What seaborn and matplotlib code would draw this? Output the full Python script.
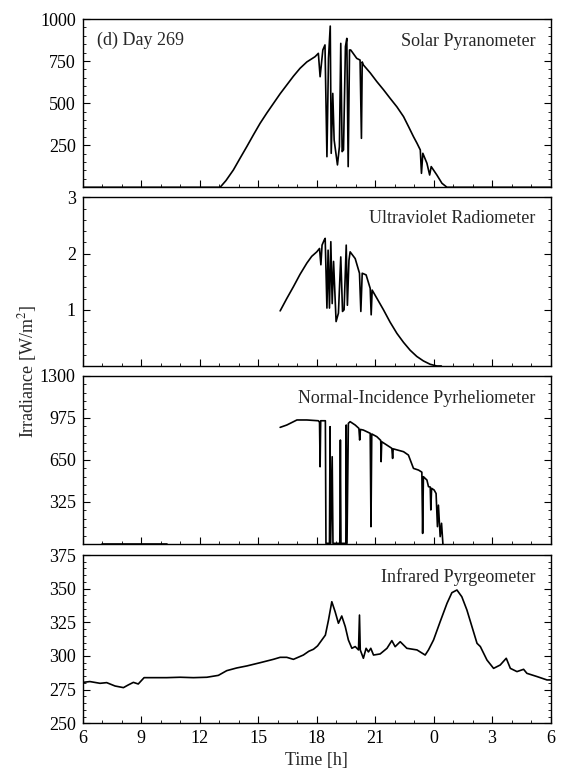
import matplotlib
matplotlib.use("Agg")
import matplotlib.pyplot as plt
import seaborn as sns
from matplotlib.ticker import AutoMinorLocator

# ---------------- data ----------------
# time axis: hours since 0h of day 269 (24 = midnight, 30 = 6h next day)
x_ticks = [6, 9, 12, 15, 18, 21, 24, 27, 30]
x_tick_labels = ["6", "9", "12", "15", "18", "21", "0", "3", "6"]

# (a) Solar Pyranometer  [W/m2]
t_solar = [6.0, 13.05, 13.35, 13.73, 14.07, 14.42, 14.76, 15.10, 15.45, 15.79,
           16.13, 16.47, 16.81, 17.15, 17.50, 17.92,
           18.09, 18.18, 18.32, 18.43, 18.53, 18.61, 18.70, 18.75, 18.83, 18.90,
           19.07, 19.17, 19.24, 19.31, 19.38, 19.48, 19.55, 19.62, 19.69, 19.75,
           20.06, 20.23, 20.30, 20.34, 20.40, 20.75, 21.09, 21.43, 21.77, 22.12,
           22.46, 22.72, 22.97, 23.15, 23.32,
           23.38, 23.45, 23.66, 23.80, 23.88, 24.17, 24.43, 24.69, 30.0]
v_solar = [0, 0, 40, 103, 172, 242, 312, 380, 442, 499,
           556, 608, 660, 707, 745, 776,
           796, 657, 816, 846, 182, 766, 958, 202, 558, 281,
           133, 242, 855, 212, 222, 836, 885, 123, 816, 816,
           766, 756, 291, 745, 727, 680, 628, 580, 529, 478,
           420, 360, 301, 262, 222,
           83, 202, 143, 73, 123, 73, 24, 0, 0]

# (b) Ultraviolet Radiometer [W/m2]
t_uv = [16.13, 16.47, 16.81, 17.15, 17.50, 17.75, 18.01, 18.15, 18.22, 18.28,
        18.39, 18.44, 18.53, 18.59, 18.66, 18.73, 18.80, 18.87, 19.00, 19.12,
        19.24, 19.33, 19.41, 19.52, 19.58, 19.66, 19.72, 19.98, 20.20, 20.27,
        20.34, 20.54, 20.75, 20.80, 20.85, 21.10, 21.43, 21.77, 22.12, 22.46,
        22.80, 23.14, 23.48, 23.83, 24.17, 24.40]
v_uv = [0.98, 1.20, 1.41, 1.63, 1.83, 1.95, 2.03, 2.09, 1.80, 2.15,
        2.24, 2.27, 1.03, 2.06, 1.03, 2.21, 1.11, 1.86, 0.79, 0.94,
        1.94, 0.97, 1.00, 2.15, 1.08, 1.88, 2.03, 1.91, 1.65, 0.97,
        1.65, 1.62, 1.38, 0.91, 1.35, 1.20, 1.00, 0.78, 0.58, 0.42,
        0.28, 0.17, 0.09, 0.03, 0.0, 0.0]

# (c) Normal-Incidence Pyrheliometer [W/m2]
t_nip = [16.13, 16.47, 16.99, 17.50, 18.09, 18.15, 18.18, 18.21, 18.45, 18.48,
         18.66, 18.69, 18.72, 18.80, 18.84, 19.19, 19.22, 19.25, 19.50, 19.52,
         19.56, 19.63, 19.72, 19.98, 20.17, 20.21, 20.25, 20.40, 20.75, 20.79,
         20.83, 21.09, 21.29, 21.31, 21.34, 21.86, 21.90, 21.93, 22.46, 22.71,
         22.97, 23.23, 23.40, 23.44, 23.48, 23.66, 23.74, 23.83, 23.86, 23.90,
         24.03, 24.13, 24.20, 24.25, 24.34, 24.41, 24.48]
v_nip = [901, 919, 958, 958, 952, 940, 597, 952, 952, 5,
         5, 906, 5, 674, 5, 5, 803, 5, 5, 919,
         5, 932, 945, 919, 893, 803, 885, 880, 855, 134,
         850, 829, 800, 636, 790, 739, 661, 735, 713, 687,
         584, 571, 555, 82, 520, 494, 443, 440, 263, 430,
         417, 390, 134, 300, 57, 160, 0]
t_nip_base = [7.0, 10.3]
v_nip_base = [3, 3]

# (d) Infrared Pyrgeometer [W/m2]
t_ir = [6.01, 6.37, 6.89, 7.23, 7.66, 8.09, 8.34, 8.60, 8.85, 9.15,
        9.62, 10.31, 11.00, 11.68, 12.37, 12.96, 13.39, 13.90, 14.42, 15.10,
        15.78, 16.13, 16.47, 16.81, 17.32, 17.60, 17.84, 18.05, 18.27, 18.45,
        18.61, 18.78, 18.95, 19.12, 19.29, 19.47, 19.63, 19.81, 19.98, 20.15,
        20.20, 20.24, 20.40, 20.54, 20.66, 20.78, 20.92, 21.26, 21.61, 21.86,
        22.03, 22.29, 22.63, 23.15, 23.57, 23.74, 24.00, 24.34, 24.69, 24.94,
        25.20, 25.45, 25.71, 25.97, 26.23, 26.40, 26.74, 27.08, 27.42, 27.73,
        27.94, 28.28, 28.62, 28.79, 29.31, 29.82, 30.0]
v_ir = [280.4, 281.0, 279.7, 280.2, 277.7, 276.5, 278.5, 280.4, 279.2, 283.9,
        283.9, 283.9, 284.2, 283.9, 284.2, 285.6, 289.1, 291.1, 292.6, 295.0,
        297.5, 299.0, 299.0, 297.5, 300.7, 303.5, 305.0, 307.5, 311.9, 315.5,
        326.7, 340.3, 332.9, 324.3, 329.7, 321.8, 311.9, 305.7, 307.0, 304.5,
        330.4, 304.5, 298.3, 305.7, 303.0, 305.7, 300.7, 301.5, 305.7, 311.4,
        306.9, 310.6, 305.7, 304.5, 300.7, 304.5, 311.9, 325.5, 339.1, 347.0,
        349.0, 344.0, 334.2, 321.8, 309.4, 307.0, 297.0, 290.8, 293.3, 298.3,
        290.8, 288.4, 290.1, 287.1, 284.7, 282.2, 282.2]

panel_names = ["Solar Pyranometer", "Ultraviolet Radiometer",
               "Normal-Incidence Pyrheliometer", "Infrared Pyrgeometer"]
y_limits = [(0, 1000), (0, 3), (0, 1300), (250, 375)]
y_ticks = [[250, 500, 750, 1000], [1, 2, 3], [325, 650, 975, 1300],
           [250, 275, 300, 325, 350, 375]]

# ---------------- style ----------------
sns.set_theme(style="ticks")
plt.rcParams["font.family"] = ["Liberation Serif", "DejaVu Serif"]
plt.rcParams["mathtext.fontset"] = "stix"
plt.rcParams["axes.edgecolor"] = "black"
plt.rcParams["axes.linewidth"] = 1.0

FS = 13
fig = plt.figure(figsize=(5.61, 7.74), dpi=100)

W, H = 561.0, 774.0
left_px, right_px = 82.7, 550.5
panels_px = [(19.0, 187.3), (197.3, 366.0), (375.7, 544.0), (555.0, 723.3)]

series = [[(t_solar, v_solar)], [(t_uv, v_uv)],
          [(t_nip, v_nip), (t_nip_base, v_nip_base)], [(t_ir, v_ir)]]
label_y = [0.84, 0.846, 0.836, 0.84]

axes = []
for i, (top, bot) in enumerate(panels_px):
    ax = fig.add_axes([left_px / W, 1 - bot / H, (right_px - left_px) / W, (bot - top) / H])
    axes.append(ax)
    for tx, vy in series[i]:
        sns.lineplot(x=tx, y=vy, ax=ax, color="black", linewidth=1.2,
                     estimator=None, sort=False)
    ax.set_xlim(6, 30)
    ax.set_ylim(*y_limits[i])
    ax.set_xticks(x_ticks)
    ax.set_yticks(y_ticks[i])
    ax.xaxis.set_minor_locator(AutoMinorLocator(3))
    ax.yaxis.set_minor_locator(AutoMinorLocator(5))
    ax.tick_params(which="both", direction="in", left=True, right=True,
                   top=False, bottom=True, colors="black", labelsize=FS, pad=5)
    ax.tick_params(which="major", length=5, width=0.8)
    ax.tick_params(which="minor", length=2.5, width=0.6)
    for s in ax.spines.values():
        s.set_visible(True)
        s.set_color("black")
    ax.set_xlabel("")
    ax.set_ylabel("")
    if i < 3:
        ax.set_xticklabels([])
    else:
        ax.set_xticklabels(x_tick_labels)
    ax.text(0.968, label_y[i], panel_names[i], transform=ax.transAxes,
            ha="right", va="baseline", fontsize=FS)

axes[0].text(0.03, 0.847, "(d) Day 269", transform=axes[0].transAxes,
             ha="left", va="baseline", fontsize=FS)

fig.text(28 / W, 1 - 371 / H, "Irradiance [W/m$^2$]", rotation=90,
         ha="center", va="center", fontsize=FS)
fig.text((left_px + right_px) / 2 / W, 1 - 760 / H, "Time [h]",
         ha="center", va="center", fontsize=FS)

fig.savefig("out.png", dpi=100)
